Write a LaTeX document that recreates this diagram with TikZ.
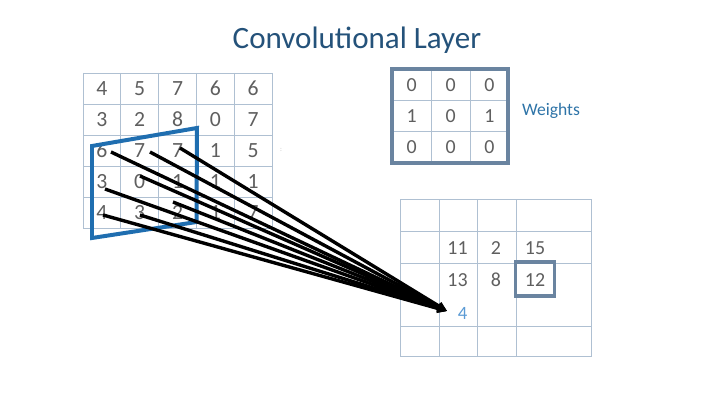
\documentclass[tikz,border=0pt]{standalone}
\usepackage{fontspec}
\setmainfont{Carlito}
\usetikzlibrary{arrows.meta}
\definecolor{titleblue}{HTML}{24527A}
\definecolor{digitgray}{HTML}{5F5F5F}
\definecolor{gridcol}{HTML}{AFC0D2}
\definecolor{quadblue}{HTML}{1F6EB0}
\definecolor{boxcol}{HTML}{6A84A0}
\definecolor{wblue}{HTML}{2E74A8}
\definecolor{fourblue}{HTML}{5B9BD5}
\tikzset{
  gridline/.style={draw=gridcol, line width=0.8pt},
  dig/.style={text=digitgray, font=\fontsize{18.5}{18.5}\selectfont, inner sep=0pt},
  odig/.style={text=digitgray, font=\fontsize{17}{17}\selectfont, inner sep=0pt},
  conn/.style={draw=black, line width=2.9pt, -{Triangle[length=8pt,width=7.5pt]}},
  thickbox/.style={draw=boxcol, line width=3.4pt},
}
\begin{document}
\begin{tikzpicture}[x=0.03cm,y=-0.03cm]
\useasboundingbox[fill=white] (0,0) rectangle (720,405);
% title
\node[text=titleblue, font=\fontsize{26.5}{26.5}\selectfont, inner sep=0pt] (title) at (357,40) {Convolutional Layer};
% input grid
\foreach \x in {83,120.8,158.6,196.4,234.2,272} \draw[gridline] (\x,73) -- (\x,228);
\foreach \y in {73,104,135,166,197,228} \draw[gridline] (83,\y) -- (272,\y);
\foreach \r/\row in {1/{4,5,7,6,6},2/{3,2,8,0,7},3/{6,7,7,1,5},4/{3,0,1,1,1},5/{4,3,2,1,7}}{
  \foreach \v [count=\c] in \row {
    \node[dig] (a-\r-\c) at ({101.9+37.8*(\c-1)},{88.5+31*(\r-1)}) {\v};
  }
}
\node[text=gray!50, font=\fontsize{6}{6}\selectfont, inner sep=0pt] (dots) at (281,150) {:};
% weights grid
\foreach \x in {431.7,470} \draw[gridline] (\x,69.3) -- (\x,163.3);
\foreach \y in {100,131.7} \draw[gridline] (391.7,\y) -- (508.3,\y);
\draw[thickbox] (391.7,69.3) rectangle (508.3,163.3);
\foreach \r/\row in {1/{0,0,0},2/{1,0,1},3/{0,0,0}}{
  \foreach \v [count=\c] in \row {
    \node[odig] (w-\r-\c) at ({411.7+38.9*(\c-1)},{84.7+31.4*(\r-1)}) {\v};
  }
}
\node[text=wblue, font=\fontsize{15}{15}\selectfont, inner sep=0pt] (weights) at (551,111) {Weights};
% output grid
\foreach \x in {400,439.3,477.3,516,591.7} \draw[gridline] (\x,199.3) -- (\x,356.7);
\foreach \y in {199.3,231.7,263.3,326.7,356.7} \draw[gridline] (400,\y) -- (591.7,\y);
\node[odig] (o11) at (457.5,248) {11};
\node[odig] (o2) at (496,248) {2};
\node[odig] (o15) at (535,248) {15};
\node[odig] (o13) at (457.5,280) {13};
\node[odig] (o8) at (496,280) {8};
\node[odig] (o12) at (535,280) {12};
\draw[thickbox] (515.5,262) rectangle (554.5,296);
\node[text=fourblue, font=\fontsize{16}{16}\selectfont, inner sep=0pt] (o4) at (462.5,313) {4};
% receptive field
\draw[draw=quadblue, line width=3.4pt, line join=miter] (92,146) -- (197,128) -- (196.5,222) -- (92,238) -- cycle;
% connectors
\coordinate (s1) at (111,152);
\coordinate (s2) at (150,152);
\coordinate (s3) at (180,148);
\coordinate (s4) at (140,176);
\coordinate (s5) at (105,189);
\coordinate (s6) at (173,202);
\coordinate (s7) at (103,215);
\coordinate (s8) at (140,215);
\coordinate (tip) at (447,311);
\foreach \s in {s1,s2,s3,s4,s5,s6,s7,s8} \draw[conn] (\s) -- (tip);
\end{tikzpicture}
\end{document}
